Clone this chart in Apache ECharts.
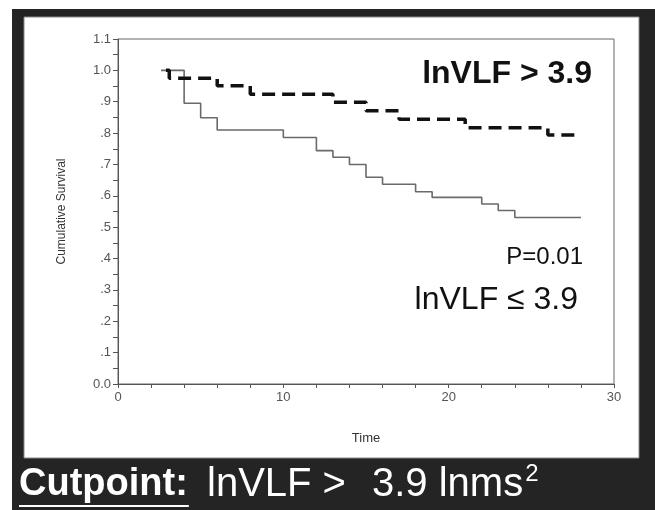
<!DOCTYPE html>
<html>
<head>
<meta charset="utf-8">
<style>
  html, body { margin: 0; padding: 0; background: #fff; }
  #chart { width: 655px; height: 510px; }
</style>
</head>
<body>
<div id="chart"></div>
<script src="https://cdn.jsdelivr.net/npm/echarts@6/dist/echarts.min.js"></script>
<script type="text/javascript">
    // lnVLF <= 3.9 (thin solid)
    var timesLow = [2.6, 4, 5, 6, 10, 12, 13, 14, 15, 16, 18, 19, 22, 23, 24, 28];
    var survLow  = [1.0, 0.895, 0.849, 0.81, 0.786, 0.744, 0.723, 0.70, 0.659, 0.637, 0.613, 0.595, 0.574, 0.553, 0.531, 0.531];

    // lnVLF > 3.9 (thick dashed)
    var timesHigh = [2.9, 3.1, 6, 8, 13, 15, 17, 21, 26, 28];
    var survHigh  = [1.0, 0.975, 0.951, 0.924, 0.898, 0.871, 0.844, 0.817, 0.794, 0.794];

    var yTicks = ['0.0', '.1', '.2', '.3', '.4', '.5', '.6', '.7', '.8', '.9', '1.0', '1.1'];

    function pairs(xs, ys) {
        return xs.map(function (x, i) { return [x, ys[i]]; });
    }

    // measure caption pieces so underline / superscript sit right
    var ctx = document.createElement('canvas').getContext('2d');
    function textWidth(str, font) {
        ctx.font = font;
        return ctx.measureText(str).width;
    }
    var fontBold = 'bold 38px Arial, "Liberation Sans"';
    var fontNorm = '40px Arial, "Liberation Sans"';
    var cutW = textWidth('Cutpoint:', fontBold);
    var tailX = 372;
    var tailW = textWidth('3.9 lnms', fontNorm);

    var myChart = echarts.init(document.getElementById('chart'));

    var option = {
        backgroundColor: '#fff',
        animation: false,
        graphic: [
            { type: 'rect', z: -10, shape: { x: 12, y: 9, width: 643, height: 501 }, style: { fill: '#242424' } },
            { type: 'rect', z: -9, shape: { x: 24, y: 17, width: 615, height: 441 }, style: { fill: '#fff', stroke: '#888', lineWidth: 1 } },
            { type: 'text', z: 10, style: { x: 592, y: 74, text: 'lnVLF > 3.9', font: 'bold 32px Arial, "Liberation Sans"', fill: '#111', textAlign: 'right', textVerticalAlign: 'middle' } },
            { type: 'text', z: 10, style: { x: 583, y: 257, text: 'P=0.01', font: '24px Arial, "Liberation Sans"', fill: '#111', textAlign: 'right', textVerticalAlign: 'middle' } },
            { type: 'text', z: 10, style: { x: 578, y: 300, text: 'lnVLF \u2264 3.9', font: '32px Arial, "Liberation Sans"', fill: '#111', textAlign: 'right', textVerticalAlign: 'middle' } },
            { type: 'text', z: 10, style: { x: 19, y: 485, text: 'Cutpoint:', font: fontBold, fill: '#fff', textAlign: 'left', textVerticalAlign: 'middle' } },
            { type: 'line', z: 10, shape: { x1: 19, y1: 506, x2: 19 + cutW + 1, y2: 506 }, style: { stroke: '#fff', lineWidth: 2 } },
            { type: 'text', z: 10, style: { x: 207, y: 485, text: 'lnVLF >', font: fontNorm, fill: '#fff', textAlign: 'left', textVerticalAlign: 'middle' } },
            { type: 'text', z: 10, style: { x: tailX, y: 485, text: '3.9 lnms', font: fontNorm, fill: '#fff', textAlign: 'left', textVerticalAlign: 'middle' } },
            { type: 'text', z: 10, style: { x: tailX + tailW + 2, y: 474, text: '2', font: '24px Arial, "Liberation Sans"', fill: '#fff', textAlign: 'left', textVerticalAlign: 'middle' } }
        ],
        grid: {
            left: 118,
            top: 39,
            right: 41,
            bottom: 126,
            show: true,
            borderColor: '#666',
            borderWidth: 1
        },
        xAxis: {
            type: 'value',
            min: 0,
            max: 30,
            interval: 10,
            name: 'Time',
            nameLocation: 'middle',
            nameGap: 48,
            nameTextStyle: { color: '#333', fontSize: 13, fontFamily: 'Arial' },
            axisLine: { lineStyle: { color: '#555' } },
            axisTick: { length: 4, lineStyle: { color: '#555' } },
            minorTick: { show: true, splitNumber: 5, length: 4, lineStyle: { color: '#555' } },
            splitLine: { show: false },
            axisLabel: { color: '#555', fontSize: 13, fontFamily: 'Arial', margin: 7 }
        },
        yAxis: {
            type: 'value',
            min: 0,
            max: 1.1,
            interval: 0.1,
            name: 'Cumulative Survival',
            nameLocation: 'middle',
            nameGap: 50,
            nameTextStyle: { color: '#333', fontSize: 12, fontFamily: 'Arial' },
            axisLine: { lineStyle: { color: '#555' } },
            axisTick: { length: 5, lineStyle: { color: '#555' } },
            minorTick: { show: true, splitNumber: 2, length: 5, lineStyle: { color: '#555' } },
            splitLine: { show: false },
            axisLabel: {
                color: '#555',
                fontSize: 13,
                fontFamily: 'Arial',
                margin: 7,
                formatter: function (v) { return yTicks[Math.round(v * 10)]; }
            }
        },
        series: [
            {
                name: 'lnVLF <= 3.9',
                type: 'line',
                step: 'end',
                symbol: 'none',
                data: pairs(timesLow, survLow),
                lineStyle: { color: '#6a6a6a', width: 1.6 }
            },
            {
                name: 'lnVLF > 3.9',
                type: 'line',
                step: 'end',
                symbol: 'none',
                data: pairs(timesHigh, survHigh),
                lineStyle: { color: '#111', width: 3.5, type: [13, 7] }
            }
        ]
    };

    myChart.setOption(option);
</script>
</body>
</html>
